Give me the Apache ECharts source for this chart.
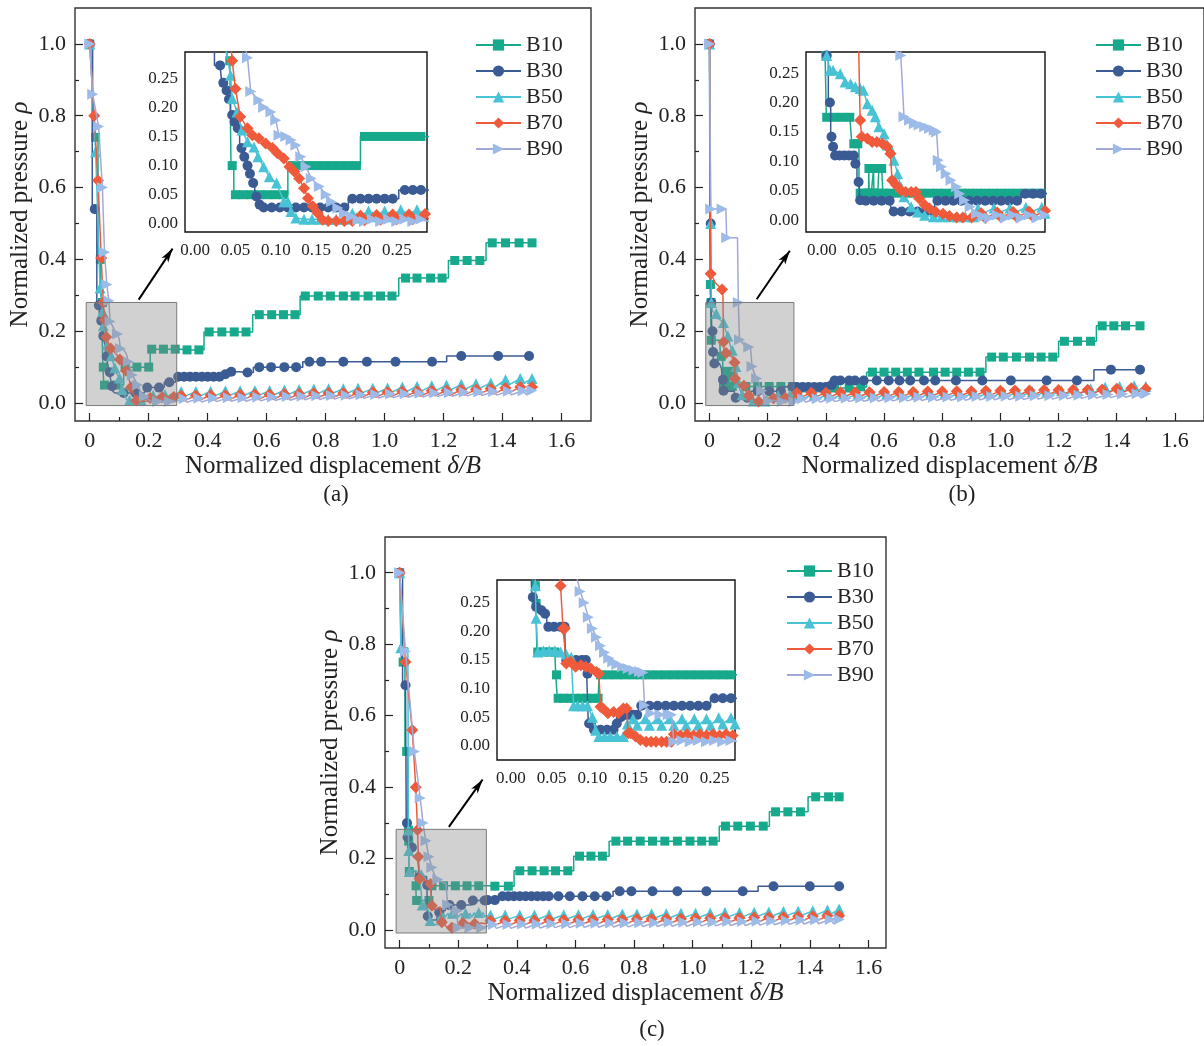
<!DOCTYPE html>
<html><head><meta charset="utf-8">
<script src="https://cdn.jsdelivr.net/npm/echarts@6/dist/echarts.min.js"></script>
<style>html,body{margin:0;padding:0;background:#fff}#c{width:1204px;height:1046px}</style>
</head><body><div id="c"></div>
<script>
// ---------- labels & ticks ----------
const SERIES_NAMES = ['B10','B30','B50','B70','B90'];
const X_TICKS = [0,0.2,0.4,0.6,0.8,1.0,1.2,1.4,1.6];
const X_MINOR = [0.1,0.3,0.5,0.7,0.9,1.1,1.3,1.5];
const Y_TICKS = [0,0.2,0.4,0.6,0.8,1.0];
const Y_MINOR = [0.1,0.3,0.5,0.7,0.9];
const INSET_TICKS = [0,0.05,0.10,0.15,0.20,0.25];
const INSET_X_MINOR = [0.01667,0.03333,0.06667,0.08333,0.11667,0.13333,0.16667,0.18333,0.21667,0.23333,0.26667,0.28333];
const INSET_Y_MINOR = [0.025,0.075,0.125,0.175,0.225,0.275];
const CAPTIONS = ['(a)','(b)','(c)'];
const X_TITLE = 'Normalized displacement ';
const X_TITLE_IT = 'δ/B';
const Y_TITLE = 'Normalized pressure ';
const Y_TITLE_IT = 'ρ';
// zoom box [x0,x1,y0,y1] and arrow [[x,y],[x,y]] in data units
const BOX_A = [-0.012,0.295,-0.007,0.28], BOX_B = [-0.013,0.29,-0.007,0.28], BOX_C = [-0.012,0.296,-0.008,0.282];
const ARROW_A = [[0.166,0.288],[0.281,0.43]], ARROW_B = [[0.162,0.289],[0.276,0.424]], ARROW_C = [[0.168,0.289],[0.283,0.421]];

// ---------- panel (a) ----------
const A_B10_HEAD = [[0,1.0],[0.02,0.74],[0.036,0.40],[0.043,0.28],[0.046,0.10],[0.05,0.05],[0.06,0.05],[0.07,0.05],[0.08,0.05],[0.09,0.05],[0.10,0.05],[0.11,0.05],[0.12,0.10],[0.13,0.10],[0.14,0.10],[0.15,0.10],[0.16,0.10],[0.17,0.10],[0.18,0.10],[0.19,0.10],[0.20,0.10],[0.21,0.15],[0.22,0.15],[0.23,0.15],[0.24,0.15],[0.25,0.15],[0.26,0.15],[0.27,0.15],[0.28,0.15],[0.29,0.15]];
const A_B10_TAIL = [[0.33,0.148],[0.37,0.148],[0.405,0.198],[0.448,0.198],[0.49,0.198],[0.53,0.198],[0.575,0.246],[0.617,0.246],[0.657,0.246],[0.696,0.246],[0.731,0.298],[0.775,0.298],[0.816,0.298],[0.86,0.298],[0.90,0.298],[0.944,0.298],[0.986,0.298],[1.025,0.298],[1.071,0.348],[1.11,0.348],[1.156,0.348],[1.195,0.348],[1.238,0.397],[1.28,0.397],[1.323,0.397],[1.365,0.446],[1.41,0.446],[1.456,0.446],[1.50,0.446]];
const A_B30_HEAD = [[0,1.0],[0.017,0.54],[0.031,0.272],[0.035,0.242],[0.039,0.229],[0.042,0.214],[0.046,0.187],[0.049,0.175],[0.053,0.164],[0.0575,0.13],[0.061,0.115],[0.065,0.10],[0.068,0.086],[0.072,0.07],[0.076,0.047],[0.08,0.033],[0.085,0.028],[0.095,0.028],[0.105,0.028],[0.115,0.028],[0.125,0.028],[0.135,0.028],[0.145,0.028],[0.155,0.028],[0.165,0.028],[0.175,0.028],[0.185,0.028],[0.195,0.043],[0.205,0.043],[0.215,0.043],[0.225,0.043],[0.235,0.043],[0.245,0.043],[0.26,0.058],[0.27,0.058],[0.28,0.058],[0.29,0.058]];
const A_B30_TAIL = [[0.30,0.073],[0.32,0.073],[0.34,0.073],[0.36,0.073],[0.38,0.073],[0.40,0.073],[0.42,0.073],[0.44,0.073],[0.46,0.08],[0.48,0.087],[0.535,0.085],[0.575,0.10],[0.615,0.10],[0.66,0.10],[0.70,0.10],[0.745,0.115],[0.785,0.115],[0.86,0.115],[0.94,0.115],[1.037,0.115],[1.161,0.115],[1.26,0.131],[1.385,0.131],[1.49,0.131]];
const A_B50_HEAD = [[0,1.0],[0.02,0.70],[0.035,0.32],[0.044,0.255],[0.046,0.215],[0.052,0.192],[0.058,0.161],[0.065,0.141],[0.073,0.132],[0.078,0.115],[0.085,0.098],[0.092,0.081],[0.101,0.07],[0.11,0.038],[0.115,0.038],[0.119,0.021],[0.125,0.01],[0.135,0.008],[0.145,0.008],[0.155,0.008],[0.165,0.008],[0.175,0.008],[0.185,0.008],[0.195,0.018],[0.20,0.01],[0.215,0.022],[0.22,0.012],[0.235,0.022],[0.24,0.012],[0.255,0.024],[0.26,0.014],[0.275,0.024],[0.28,0.014],[0.29,0.025]];
const A_B50_TAIL = [[0.31,0.032,0.018],[0.36,0.032,0.018],[0.41,0.033,0.018],[0.46,0.034,0.02],[0.51,0.034,0.02],[0.56,0.035,0.02],[0.61,0.035,0.021],[0.66,0.036,0.022],[0.71,0.038,0.024],[0.76,0.039,0.025],[0.81,0.04,0.026],[0.86,0.04,0.026],[0.91,0.041,0.027],[0.96,0.041,0.027],[1.01,0.042,0.028],[1.06,0.045,0.03],[1.11,0.047,0.032],[1.16,0.048,0.033],[1.21,0.05,0.035],[1.26,0.052,0.037],[1.31,0.054,0.04],[1.36,0.056,0.042],[1.41,0.065,0.05],[1.46,0.068,0.055],[1.50,0.068,0.055]];
const A_B70_HEAD = [[0,1.0],[0.015,0.80],[0.028,0.62],[0.039,0.404],[0.046,0.28],[0.05,0.232],[0.056,0.184],[0.065,0.164],[0.071,0.152],[0.079,0.147],[0.0875,0.138],[0.096,0.13],[0.102,0.121],[0.11,0.112],[0.117,0.098],[0.123,0.09],[0.129,0.078],[0.135,0.061],[0.14,0.044],[0.146,0.03],[0.152,0.018],[0.158,0.007],[0.165,0.005],[0.175,0.005],[0.185,0.005],[0.195,0.005],[0.205,0.014],[0.21,0.006],[0.225,0.015],[0.23,0.007],[0.245,0.016],[0.25,0.008],[0.265,0.016],[0.27,0.008],[0.285,0.017],[0.29,0.008]];
const A_B70_TAIL = [[0.31,0.02,0.006],[0.36,0.021,0.007],[0.41,0.022,0.008],[0.46,0.022,0.008],[0.51,0.023,0.009],[0.56,0.024,0.01],[0.61,0.024,0.01],[0.66,0.025,0.011],[0.71,0.026,0.012],[0.76,0.027,0.013],[0.81,0.028,0.014],[0.86,0.028,0.014],[0.91,0.029,0.015],[0.96,0.03,0.016],[1.01,0.031,0.017],[1.06,0.032,0.018],[1.11,0.033,0.019],[1.16,0.034,0.02],[1.21,0.035,0.021],[1.26,0.037,0.022],[1.31,0.038,0.024],[1.36,0.04,0.025],[1.41,0.042,0.027],[1.46,0.045,0.03],[1.50,0.045,0.03]];
const A_B90_HEAD = [[0,1.0],[0.01,0.86],[0.03,0.77],[0.043,0.60],[0.05,0.42],[0.058,0.33],[0.065,0.285],[0.069,0.227],[0.079,0.212],[0.085,0.20],[0.094,0.192],[0.10,0.178],[0.104,0.152],[0.1125,0.15],[0.119,0.144],[0.125,0.135],[0.131,0.115],[0.1375,0.098],[0.144,0.078],[0.154,0.064],[0.1625,0.05],[0.169,0.038],[0.177,0.027],[0.185,0.018],[0.194,0.0125],[0.202,0.007],[0.21,0.004],[0.22,0.008],[0.23,0.004],[0.24,0.008],[0.25,0.004],[0.26,0.008],[0.27,0.004],[0.28,0.008],[0.29,0.004]];
const A_B90_TAIL = [[0.32,0.012,0.002],[0.37,0.013,0.003],[0.42,0.014,0.004],[0.47,0.015,0.005],[0.52,0.015,0.005],[0.57,0.016,0.006],[0.62,0.017,0.007],[0.67,0.018,0.008],[0.72,0.019,0.009],[0.77,0.02,0.01],[0.82,0.021,0.011],[0.87,0.022,0.012],[0.92,0.023,0.013],[0.97,0.024,0.014],[1.02,0.025,0.015],[1.07,0.026,0.016],[1.12,0.027,0.017],[1.17,0.028,0.018],[1.22,0.029,0.019],[1.27,0.03,0.02],[1.32,0.031,0.021],[1.37,0.032,0.022],[1.42,0.033,0.023],[1.47,0.034,0.024],[1.50,0.035,0.025]];

// ---------- panel (b) ----------
const B_B10_HEAD = [[0,1.0],[0.003,0.33],[0.005,0.28],[0.006,0.175],[0.015,0.175],[0.025,0.175],[0.035,0.175],[0.04,0.13],[0.045,0.13],[0.048,0.046],[0.055,0.046],[0.0585,0.046],[0.059,0.088],[0.0595,0.046],[0.0645,0.046],[0.065,0.088],[0.0655,0.046],[0.07,0.046],[0.073,0.088],[0.075,0.088],[0.078,0.046],[0.085,0.046],[0.095,0.046],[0.105,0.046],[0.115,0.046],[0.125,0.046],[0.135,0.046],[0.145,0.046],[0.155,0.046],[0.165,0.046],[0.175,0.046],[0.185,0.046],[0.195,0.046],[0.205,0.046],[0.215,0.046],[0.225,0.046],[0.235,0.046],[0.245,0.046],[0.255,0.046],[0.265,0.046],[0.275,0.046],[0.285,0.046]];
const B_B10_TAIL = [[0.33,0.042],[0.37,0.042],[0.43,0.042],[0.48,0.042],[0.52,0.045],[0.56,0.086],[0.60,0.086],[0.64,0.086],[0.68,0.086],[0.72,0.086],[0.77,0.086],[0.81,0.086],[0.85,0.086],[0.89,0.086],[0.93,0.086],[0.97,0.128],[1.01,0.128],[1.055,0.128],[1.10,0.128],[1.14,0.128],[1.18,0.128],[1.22,0.172],[1.265,0.172],[1.31,0.172],[1.35,0.215],[1.39,0.215],[1.43,0.215],[1.48,0.215]];
const B_B30_HEAD = [[0,1.0],[0.004,0.5],[0.006,0.28],[0.01,0.2],[0.012,0.142],[0.014,0.125],[0.0165,0.11],[0.022,0.11],[0.028,0.11],[0.034,0.11],[0.04,0.11],[0.042,0.096],[0.046,0.065],[0.048,0.034],[0.055,0.033],[0.065,0.033],[0.075,0.033],[0.085,0.033],[0.09,0.015],[0.10,0.015],[0.11,0.015],[0.12,0.015],[0.13,0.015],[0.14,0.015],[0.145,0.033],[0.155,0.033],[0.165,0.033],[0.175,0.033],[0.185,0.033],[0.195,0.033],[0.205,0.033],[0.215,0.033],[0.225,0.033],[0.235,0.033],[0.245,0.033],[0.255,0.045],[0.265,0.045],[0.275,0.045],[0.285,0.045]];
const B_B30_TAIL = [[0.30,0.045],[0.32,0.045],[0.34,0.045],[0.36,0.045],[0.38,0.045],[0.40,0.045],[0.42,0.05],[0.43,0.063],[0.45,0.063],[0.48,0.063],[0.50,0.063],[0.53,0.063],[0.575,0.063],[0.616,0.063],[0.653,0.063],[0.69,0.063],[0.737,0.063],[0.776,0.063],[0.847,0.063],[0.938,0.063],[1.036,0.063],[1.159,0.063],[1.263,0.063],[1.38,0.093],[1.48,0.093]];
const B_B50_HEAD = [[0,1.0],[0.004,0.5],[0.006,0.28],[0.01,0.255],[0.014,0.255],[0.023,0.249],[0.029,0.235],[0.036,0.232],[0.042,0.227],[0.048,0.224],[0.052,0.221],[0.057,0.198],[0.063,0.187],[0.067,0.176],[0.0715,0.159],[0.078,0.147],[0.082,0.128],[0.086,0.122],[0.0905,0.102],[0.095,0.079],[0.099,0.057],[0.103,0.04],[0.112,0.023],[0.12,0.014],[0.129,0.0085],[0.14,0.006],[0.15,0.006],[0.16,0.006],[0.17,0.006],[0.18,0.006],[0.19,0.006],[0.196,0.02],[0.2,0.01],[0.216,0.021],[0.22,0.011],[0.236,0.021],[0.24,0.011],[0.256,0.022],[0.26,0.012],[0.276,0.022],[0.28,0.012],[0.29,0.02]];
const B_B50_TAIL = [[0.31,0.024,0.012],[0.36,0.024,0.012],[0.41,0.024,0.012],[0.46,0.025,0.013],[0.51,0.025,0.013],[0.56,0.025,0.013],[0.61,0.026,0.014],[0.66,0.026,0.014],[0.71,0.026,0.014],[0.76,0.027,0.015],[0.81,0.027,0.015],[0.86,0.028,0.016],[0.91,0.028,0.016],[0.96,0.029,0.017],[1.01,0.03,0.018],[1.06,0.031,0.019],[1.11,0.032,0.02],[1.16,0.033,0.021],[1.21,0.034,0.022],[1.26,0.036,0.024],[1.31,0.04,0.028],[1.36,0.044,0.03],[1.41,0.046,0.032],[1.46,0.048,0.034],[1.50,0.046,0.034]];
const B_B70_HEAD = [[0,1.0],[0.004,0.36],[0.02,0.335],[0.043,0.316],[0.046,0.3],[0.048,0.17],[0.05,0.142],[0.057,0.139],[0.063,0.133],[0.069,0.133],[0.076,0.13],[0.082,0.125],[0.086,0.113],[0.088,0.068],[0.093,0.06],[0.099,0.051],[0.105,0.048],[0.112,0.048],[0.118,0.048],[0.122,0.037],[0.129,0.026],[0.135,0.02],[0.143,0.014],[0.152,0.011],[0.16,0.007],[0.169,0.0045],[0.177,0.0045],[0.188,0.0045],[0.2,0.012],[0.205,0.004],[0.22,0.013],[0.225,0.005],[0.24,0.014],[0.245,0.005],[0.26,0.015],[0.265,0.006],[0.28,0.016],[0.285,0.007]];
const B_B70_TAIL = [[0.30,0.028,0.014],[0.35,0.029,0.015],[0.40,0.029,0.015],[0.45,0.03,0.016],[0.50,0.03,0.016],[0.55,0.03,0.016],[0.60,0.031,0.017],[0.65,0.031,0.017],[0.70,0.031,0.017],[0.75,0.032,0.018],[0.80,0.032,0.018],[0.85,0.033,0.019],[0.90,0.033,0.019],[0.95,0.034,0.02],[1.00,0.034,0.02],[1.05,0.035,0.021],[1.10,0.035,0.021],[1.15,0.036,0.022],[1.20,0.036,0.022],[1.25,0.037,0.023],[1.30,0.037,0.023],[1.35,0.038,0.024],[1.40,0.04,0.025],[1.45,0.041,0.026],[1.50,0.04,0.026]];
const B_B90_HEAD = [[0,1.0],[0.004,0.54],[0.043,0.54],[0.056,0.54],[0.059,0.46],[0.082,0.46],[0.096,0.46],[0.099,0.28],[0.103,0.176],[0.11,0.17],[0.116,0.164],[0.122,0.162],[0.129,0.159],[0.135,0.156],[0.141,0.153],[0.144,0.15],[0.146,0.102],[0.15,0.091],[0.156,0.079],[0.162,0.068],[0.169,0.057],[0.173,0.045],[0.179,0.034],[0.186,0.023],[0.194,0.011],[0.203,0.006],[0.21,0.004],[0.22,0.009],[0.23,0.004],[0.24,0.009],[0.25,0.004],[0.26,0.009],[0.27,0.004],[0.28,0.009],[0.29,0.004]];
const B_B90_TAIL = [[0.32,0.012,0.003],[0.37,0.012,0.003],[0.42,0.013,0.004],[0.47,0.013,0.004],[0.52,0.014,0.005],[0.57,0.014,0.005],[0.62,0.015,0.006],[0.67,0.015,0.006],[0.72,0.016,0.007],[0.77,0.016,0.007],[0.82,0.017,0.008],[0.87,0.017,0.008],[0.92,0.018,0.009],[0.97,0.018,0.009],[1.02,0.019,0.01],[1.07,0.019,0.01],[1.12,0.02,0.011],[1.17,0.02,0.011],[1.22,0.021,0.012],[1.27,0.022,0.013],[1.32,0.023,0.014],[1.37,0.024,0.015],[1.42,0.025,0.016],[1.47,0.026,0.017],[1.50,0.026,0.017]];

// ---------- panel (c) ----------
const C_B10_HEAD = [[0,1.0],[0.012,0.75],[0.024,0.5],[0.03,0.28],[0.031,0.249],[0.033,0.164],[0.04,0.164],[0.047,0.164],[0.054,0.164],[0.056,0.124],[0.058,0.083],[0.065,0.083],[0.072,0.083],[0.079,0.083],[0.086,0.083],[0.093,0.083],[0.10,0.083],[0.107,0.083],[0.11,0.124],[0.12,0.124],[0.13,0.124],[0.14,0.124],[0.15,0.124],[0.16,0.124],[0.17,0.124],[0.18,0.124],[0.19,0.124],[0.20,0.124],[0.21,0.124],[0.22,0.124],[0.23,0.124],[0.24,0.124],[0.25,0.124],[0.26,0.124],[0.27,0.124],[0.28,0.124],[0.29,0.124]];
const C_B10_TAIL = [[0.325,0.123],[0.371,0.123],[0.41,0.166],[0.452,0.166],[0.493,0.166],[0.532,0.166],[0.574,0.166],[0.614,0.207],[0.653,0.207],[0.692,0.207],[0.738,0.249],[0.778,0.249],[0.821,0.249],[0.863,0.249],[0.905,0.249],[0.948,0.249],[0.991,0.249],[1.031,0.249],[1.07,0.249],[1.112,0.291],[1.154,0.291],[1.197,0.291],[1.241,0.291],[1.283,0.331],[1.325,0.331],[1.368,0.331],[1.42,0.373],[1.464,0.373],[1.50,0.373]];
const C_B30_HEAD = [[0,1.0],[0.02,0.685],[0.025,0.3],[0.027,0.26],[0.031,0.243],[0.0375,0.237],[0.042,0.231],[0.046,0.208],[0.053,0.208],[0.061,0.208],[0.066,0.208],[0.068,0.15],[0.073,0.15],[0.08,0.15],[0.087,0.15],[0.092,0.15],[0.094,0.126],[0.096,0.039],[0.098,0.039],[0.102,0.028],[0.11,0.028],[0.118,0.028],[0.126,0.028],[0.13,0.039],[0.135,0.05],[0.14,0.054],[0.145,0.054],[0.15,0.054],[0.155,0.054],[0.16,0.07],[0.17,0.07],[0.18,0.07],[0.19,0.07],[0.20,0.07],[0.21,0.07],[0.22,0.07],[0.23,0.07],[0.24,0.07],[0.25,0.083],[0.26,0.083],[0.27,0.083],[0.28,0.083],[0.29,0.083]];
const C_B30_TAIL = [[0.30,0.084],[0.325,0.084],[0.351,0.095],[0.371,0.095],[0.39,0.095],[0.41,0.095],[0.43,0.095],[0.45,0.095],[0.47,0.095],[0.49,0.095],[0.509,0.095],[0.542,0.095],[0.581,0.095],[0.624,0.095],[0.666,0.095],[0.706,0.095],[0.751,0.109],[0.791,0.109],[0.863,0.109],[0.948,0.109],[1.047,0.109],[1.171,0.109],[1.276,0.123],[1.40,0.123],[1.50,0.123]];
const C_B50_HEAD = [[0,1.0],[0.004,0.79],[0.028,0.79],[0.03,0.28],[0.031,0.223],[0.033,0.164],[0.04,0.166],[0.047,0.166],[0.054,0.166],[0.061,0.164],[0.068,0.16],[0.074,0.155],[0.077,0.07],[0.082,0.07],[0.088,0.07],[0.094,0.07],[0.10,0.05],[0.104,0.027],[0.108,0.016],[0.115,0.016],[0.122,0.016],[0.13,0.016],[0.138,0.016],[0.143,0.038],[0.15,0.047],[0.155,0.036],[0.165,0.047],[0.17,0.036],[0.18,0.047],[0.185,0.036],[0.195,0.047],[0.20,0.036],[0.21,0.047],[0.215,0.036],[0.225,0.047],[0.23,0.036],[0.24,0.047],[0.245,0.036],[0.255,0.049],[0.26,0.038],[0.27,0.049],[0.275,0.038],[0.285,0.049],[0.29,0.038]];
const C_B50_TAIL = [[0.31,0.042,0.03],[0.36,0.042,0.03],[0.41,0.042,0.03],[0.46,0.042,0.03],[0.51,0.043,0.031],[0.56,0.043,0.031],[0.61,0.043,0.031],[0.66,0.044,0.032],[0.71,0.044,0.032],[0.76,0.045,0.033],[0.81,0.045,0.033],[0.86,0.046,0.034],[0.91,0.046,0.034],[0.96,0.047,0.035],[1.01,0.047,0.035],[1.06,0.048,0.036],[1.11,0.049,0.037],[1.16,0.049,0.037],[1.21,0.05,0.038],[1.26,0.051,0.039],[1.31,0.052,0.04],[1.36,0.053,0.041],[1.41,0.054,0.042],[1.46,0.056,0.044],[1.50,0.059,0.045]];
const C_B70_HEAD = [[0,1.0],[0.02,0.75],[0.043,0.56],[0.055,0.4],[0.061,0.28],[0.064,0.205],[0.066,0.205],[0.068,0.144],[0.073,0.147],[0.0795,0.138],[0.086,0.141],[0.092,0.138],[0.098,0.135],[0.105,0.129],[0.108,0.126],[0.11,0.068],[0.113,0.065],[0.119,0.057],[0.126,0.059],[0.132,0.057],[0.138,0.065],[0.142,0.065],[0.144,0.022],[0.147,0.022],[0.153,0.016],[0.159,0.01],[0.166,0.007],[0.172,0.007],[0.178,0.007],[0.185,0.007],[0.191,0.007],[0.197,0.007],[0.20,0.02],[0.208,0.018],[0.216,0.02],[0.224,0.018],[0.232,0.02],[0.24,0.018],[0.248,0.02],[0.256,0.018],[0.264,0.02],[0.272,0.018],[0.28,0.02],[0.29,0.018]];
const C_B70_TAIL = [[0.31,0.026,0.012],[0.36,0.026,0.012],[0.41,0.027,0.013],[0.46,0.027,0.013],[0.51,0.028,0.014],[0.56,0.028,0.014],[0.61,0.029,0.015],[0.66,0.029,0.015],[0.71,0.03,0.016],[0.76,0.03,0.016],[0.81,0.031,0.017],[0.86,0.031,0.017],[0.91,0.032,0.018],[0.96,0.032,0.018],[1.01,0.033,0.019],[1.06,0.033,0.019],[1.11,0.034,0.02],[1.16,0.034,0.02],[1.21,0.035,0.021],[1.26,0.036,0.022],[1.31,0.037,0.023],[1.36,0.038,0.024],[1.41,0.039,0.025],[1.46,0.04,0.026],[1.50,0.04,0.026]];
const C_B90_HEAD = [[0,1.0],[0.02,0.78],[0.05,0.5],[0.07,0.37],[0.08,0.3],[0.085,0.27],[0.09,0.25],[0.095,0.225],[0.10,0.205],[0.105,0.19],[0.11,0.175],[0.115,0.163],[0.12,0.153],[0.125,0.147],[0.13,0.142],[0.137,0.138],[0.144,0.135],[0.151,0.132],[0.158,0.13],[0.162,0.128],[0.164,0.071],[0.172,0.057],[0.183,0.054],[0.193,0.054],[0.197,0.054],[0.20,0.007],[0.21,0.009],[0.22,0.007],[0.23,0.009],[0.24,0.007],[0.25,0.009],[0.26,0.007],[0.27,0.009],[0.28,0.007],[0.29,0.009]];
const C_B90_TAIL = [[0.32,0.016,0.005],[0.37,0.016,0.005],[0.42,0.017,0.006],[0.47,0.017,0.006],[0.52,0.018,0.007],[0.57,0.018,0.007],[0.62,0.019,0.008],[0.67,0.019,0.008],[0.72,0.02,0.009],[0.77,0.02,0.009],[0.82,0.021,0.01],[0.87,0.021,0.01],[0.92,0.022,0.011],[0.97,0.022,0.011],[1.02,0.023,0.012],[1.07,0.023,0.012],[1.12,0.024,0.013],[1.17,0.024,0.013],[1.22,0.025,0.014],[1.27,0.026,0.015],[1.32,0.027,0.016],[1.37,0.028,0.017],[1.42,0.029,0.018],[1.47,0.03,0.019],[1.50,0.03,0.019]];

// ---------- styling / layout ----------
const FONT = '"Liberation Serif","Times New Roman","DejaVu Serif",serif';
const INK = '#222';
const COLORS = ['#16a98b','#3b5b95','#47c3d5','#ef5a3b','#9dbbe8'];
const LINE_COLORS = ['#16a98b','#3b5b95','#47c3d5','#ef5a3b','#a2a9d6'];
const SYMS = ['rect','circle','triangle','diamond','triangle'];
const SYM_SIZE = [9,10,11,12,11];
const SYM_ROT = [0,0,0,0,-90];
const SAW = [false,false,true,true,true];
const DROP = 0.01;

const PANELS = [
  {main:{left:75,top:8,width:516,height:413,x:[-0.05,1.7],y:[-0.05,1.1]},
   inset:{left:185,top:52,width:242,height:180,x:[-0.0125,0.2875],y:[-0.014,0.295]},
   legend:{left:470,top:29}, caption:{x:336,y:495}, box:BOX_A, arrow:ARROW_A,
   head:[A_B10_HEAD,A_B30_HEAD,A_B50_HEAD,A_B70_HEAD,A_B90_HEAD],
   tail:[A_B10_TAIL,A_B30_TAIL,A_B50_TAIL,A_B70_TAIL,A_B90_TAIL]},
  {main:{left:695,top:8,width:516,height:413,x:[-0.05,1.7],y:[-0.05,1.1]},
   inset:{left:806,top:52,width:239,height:180,x:[-0.02,0.28],y:[-0.02,0.286]},
   legend:{left:1090,top:29}, caption:{x:962,y:495}, box:BOX_B, arrow:ARROW_B,
   head:[B_B10_HEAD,B_B30_HEAD,B_B50_HEAD,B_B70_HEAD,B_B90_HEAD],
   tail:[B_B10_TAIL,B_B30_TAIL,B_B50_TAIL,B_B70_TAIL,B_B90_TAIL]},
  {main:{left:385,top:537,width:501,height:411,x:[-0.05,1.66],y:[-0.05,1.1]},
   inset:{left:497,top:580,width:238,height:180,x:[-0.017,0.275],y:[-0.025,0.29]},
   legend:{left:781,top:555}, caption:{x:652,y:1030}, box:BOX_C, arrow:ARROW_C,
   head:[C_B10_HEAD,C_B30_HEAD,C_B50_HEAD,C_B70_HEAD,C_B90_HEAD],
   tail:[C_B10_TAIL,C_B30_TAIL,C_B50_TAIL,C_B70_TAIL,C_B90_TAIL]}
];

function buildPoints(head, tail, saw){
  const pts = head.map(p => ({x:p[0], y:p[1], head:true, mark:true}));
  tail.forEach((t,i) => {
    pts.push({x:t[0], y:t[1], head:false, mark:true});
    if (saw && i < tail.length-1) pts.push({x:t[0]+DROP, y:t[2], head:false, mark:false});
  });
  return pts;
}
function mainItems(pts, sx, sy){
  let last = null;
  return pts.map(p => {
    let show = p.mark;
    if (show && p.head && last){
      const d = Math.hypot((p.x-last.x)*sx, (p.y-last.y)*sy);
      if (d < 11) show = false;
    }
    if (show) last = p;
    return show ? {value:[p.x,p.y]} : {value:[p.x,p.y], symbol:'none'};
  });
}
function insetItems(pts){
  return pts.map(p => p.mark ? {value:[p.x,p.y]} : {value:[p.x,p.y], symbol:'none'});
}

const xAxes = [], yAxes = [], grids = [], series = [], legends = [], graphics = [];
function axis(list, g, pos, range, o){
  list.push({
    gridIndex:g, type:'value', position:pos, min:range[0], max:range[1],
    axisLine:{show:false, onZero:false}, splitLine:{show:false},
    axisTick:{show:!!o.ticks, inside:true, length:o.len||6, customValues:o.ticks, lineStyle:{color:INK, width:1.2}},
    axisLabel:o.labels ? {show:true, customValues:o.labels, formatter:o.fmt, margin:o.margin, fontSize:o.fs, fontFamily:FONT, color:INK} : {show:false},
    name:o.name || '', nameLocation:'middle', nameGap:o.nameGap || 0,
    nameTextStyle:{fontFamily:FONT, fontSize:25, color:INK,
      rich:{n:{fontFamily:FONT, fontSize:25, color:INK}, i:{fontFamily:FONT, fontSize:25, color:INK, fontStyle:'italic'}}}
  });
  return list.length-1;
}
const fmtMainX = v => v === 0 ? '0' : v.toFixed(1);
const fmtMainY = v => v.toFixed(1);
const fmtInset = v => v.toFixed(2);

PANELS.forEach((P, pi) => {
  const m = P.main, n = P.inset;
  const gm = grids.length;
  grids.push({left:m.left, top:m.top, width:m.width, height:m.height, show:true, borderColor:'#333', borderWidth:1.4, backgroundColor:'transparent', z:0});
  const xm = axis(xAxes, gm, 'bottom', m.x, {ticks:X_TICKS, len:8, labels:X_TICKS, fmt:fmtMainX, margin:9, fs:22,
    name:'{n|'+X_TITLE+'}{i|'+X_TITLE_IT+'}', nameGap:33});
  axis(xAxes, gm, 'bottom', m.x, {ticks:X_MINOR, len:4});
  const ym = axis(yAxes, gm, 'left', m.y, {ticks:Y_TICKS, len:8, labels:Y_TICKS, fmt:fmtMainY, margin:9, fs:22,
    name:'{n|'+Y_TITLE+'}{i|'+Y_TITLE_IT+'}', nameGap:42});
  axis(yAxes, gm, 'left', m.y, {ticks:Y_MINOR, len:4});
  const gi = grids.length;
  grids.push({left:n.left, top:n.top, width:n.width, height:n.height, show:true, borderColor:'#111', borderWidth:1.4, backgroundColor:'#fff', z:1});
  const xi = axis(xAxes, gi, 'bottom', n.x, {ticks:INSET_TICKS, len:6, labels:INSET_TICKS, fmt:fmtInset, margin:10, fs:17});
  axis(xAxes, gi, 'bottom', n.x, {ticks:INSET_X_MINOR, len:3.5});
  axis(xAxes, gi, 'top', n.x, {ticks:INSET_TICKS, len:6});
  axis(xAxes, gi, 'top', n.x, {ticks:INSET_X_MINOR, len:3.5});
  const yi = axis(yAxes, gi, 'left', n.y, {ticks:INSET_TICKS, len:6, labels:INSET_TICKS, fmt:fmtInset, margin:7, fs:17});
  axis(yAxes, gi, 'left', n.y, {ticks:INSET_Y_MINOR, len:3.5});
  axis(yAxes, gi, 'right', n.y, {ticks:INSET_TICKS, len:6});
  axis(yAxes, gi, 'right', n.y, {ticks:INSET_Y_MINOR, len:3.5});

  const sx = m.width/(m.x[1]-m.x[0]), sy = m.height/(m.y[1]-m.y[0]);
  SERIES_NAMES.forEach((name, k) => {
    const pts = buildPoints(P.head[k], P.tail[k], SAW[k]);
    const common = {
      type:'line', name, step: SAW[k] ? false : 'middle',
      symbol:SYMS[k], symbolSize:SYM_SIZE[k], symbolRotate:SYM_ROT[k], showAllSymbol:true,
      itemStyle:{color:COLORS[k]}, lineStyle:{color:LINE_COLORS[k], width:1.5},
      animation:false, silent:true, clip:true, emphasis:{disabled:true}
    };
    series.push(Object.assign({}, common, {xAxisIndex:xm, yAxisIndex:ym, data:mainItems(pts, sx, sy), z:2+k*0.01}));
    series.push(Object.assign({}, common, {xAxisIndex:xi, yAxisIndex:yi, data:insetItems(pts), z:3+k*0.01}));
  });
  const B = P.box, A = P.arrow;
  series.push({
    type:'line', name:'_overlay'+pi, xAxisIndex:xm, yAxisIndex:ym, data:[[B[0],B[2]]], symbol:'none',
    lineStyle:{opacity:0}, silent:true, animation:false, z:10,
    markArea:{silent:true, z:10, itemStyle:{color:'rgba(135,135,135,0.38)', borderColor:'#7a7a7a', borderWidth:1},
      data:[[{coord:[B[0],B[2]]},{coord:[B[1],B[3]]}]]},
    markLine:{silent:true, z:10, symbol:['none','arrow'], symbolSize:[6,14], label:{show:false},
      lineStyle:{color:'#000', width:2, type:'solid'}, data:[[{coord:A[0]},{coord:A[1]}]], animation:false}
  });
  legends.push({left:P.legend.left, top:P.legend.top, orient:'vertical', itemWidth:45, itemHeight:14, itemGap:4,
    selectedMode:false, data:SERIES_NAMES, textStyle:{fontFamily:FONT, fontSize:22, color:INK}});
  graphics.push({type:'text', x:P.caption.x, y:P.caption.y,
    style:{text:CAPTIONS[pi], fill:INK, font:'23px "Liberation Serif", serif', align:'center', verticalAlign:'middle'}});
});

const chart = echarts.init(document.getElementById('c'), null, {renderer:'canvas'});
chart.setOption({
  animation:false, backgroundColor:'#fff',
  textStyle:{fontFamily:FONT},
  grid:grids, xAxis:xAxes, yAxis:yAxes, series, legend:legends, graphic:graphics
});
</script>
</body></html>
